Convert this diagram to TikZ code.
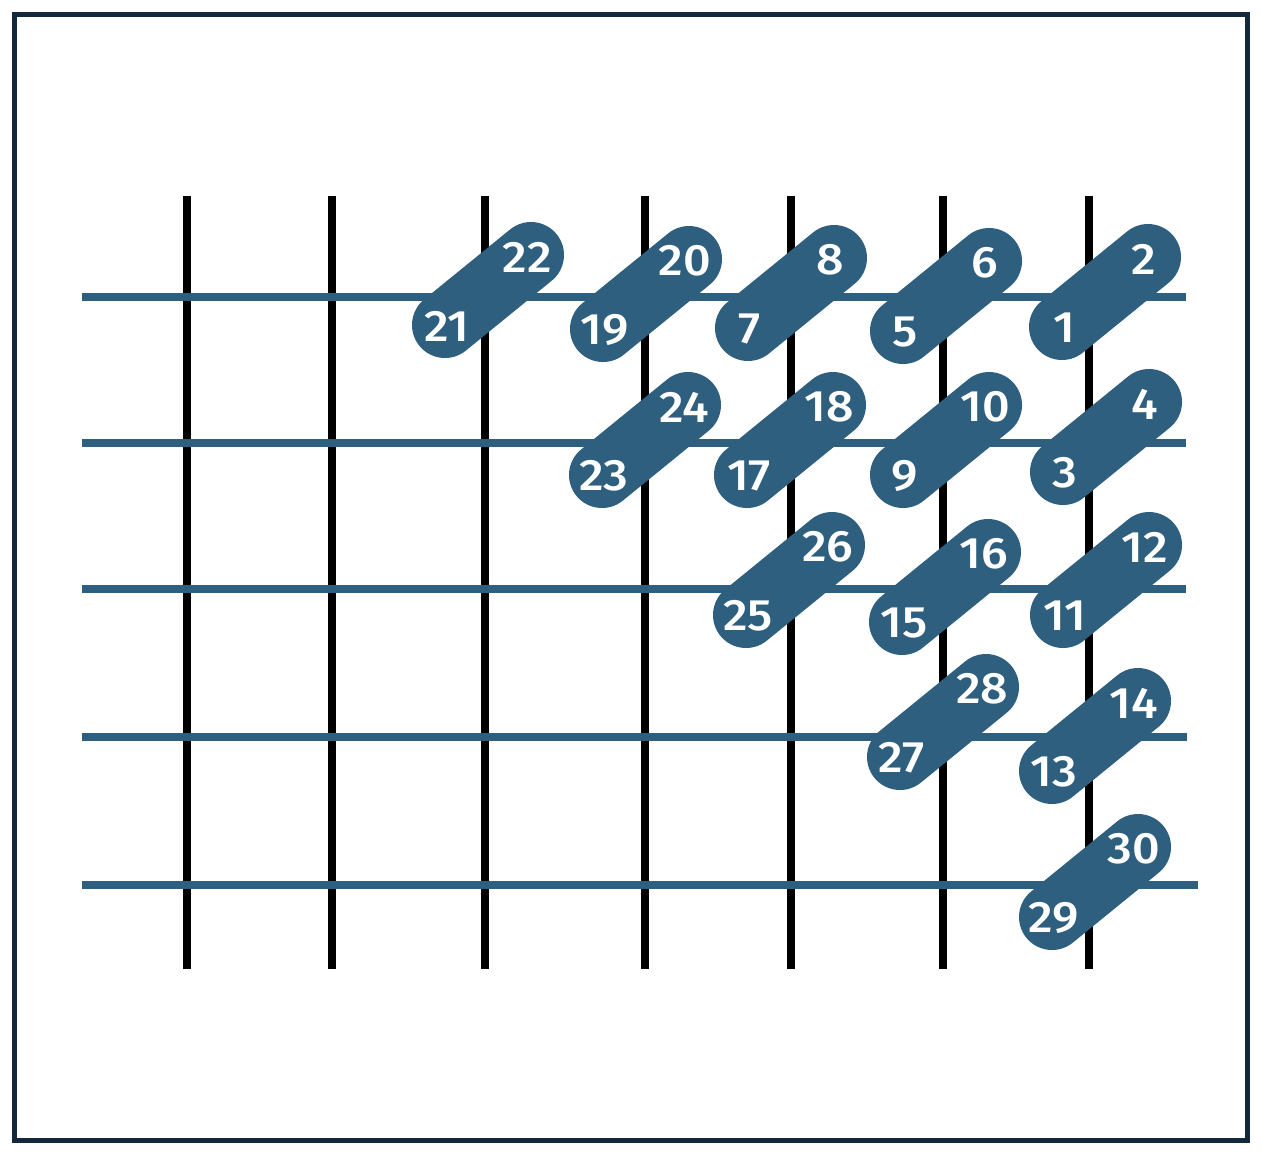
\documentclass[tikz,border=0pt]{standalone}
\usepackage{fontspec}
\setmainfont{Fira Sans}
\newfontfamily\numfont{Fira Sans Medium}[FakeStretch=1.1]
\definecolor{framenavy}{HTML}{13283A}
\definecolor{pillblue}{HTML}{2F5F7E}

\tikzset{
  frame/.style={draw=framenavy,line width=2.5pt},
  pole/.style={draw=black,line width=4pt},
  rail/.style={draw=pillblue,line width=4pt},
  pill/.style={draw=pillblue,line width=33pt,line cap=round},
  num/.style={text=white,inner sep=0pt,font=\numfont\fontsize{22}{24}\selectfont}
}

\begin{document}
\begin{tikzpicture}[x=0.5pt,y=-0.5pt]
  \useasboundingbox (0,0) rectangle (1262,1158);
  \draw[frame] (14.5,14.5) rectangle (1247,1140.5);

  % vertical lines
  \foreach \x in {187,332,485,645,791,943,1089}
    \draw[pole] (\x,196) -- (\x,969);

  % horizontal lines
  \foreach \y/\e in {297/1186,443/1186,589/1186,737/1187,885/1198}
    \draw[rail] (82,\y) -- (\e,\y);

  % pills
  \foreach \lo/\hi/\x/\y in {21/22/445/325, 19/20/603/329, 7/8/748/328,
      5/6/903/331, 1/2/1062/327, 23/24/602/475, 17/18/747/475,
      9/10/903/475, 3/4/1063/472, 25/26/746/615, 15/16/902/622,
      11/12/1063/615, 27/28/900/757, 13/14/1052/771, 29/30/1052/917}
  {
    \coordinate (c\lo) at (\x,\y);
    \coordinate (c\hi) at (\x+86,\y-70);
    \draw[pill] (c\lo) -- (c\hi);
    \node[num] (n\lo) at ([shift={(2,1)}]c\lo) {\lo};
    \node[num] (n\hi) at ([shift={(-4,2)}]c\hi) {\hi};
  }
\end{tikzpicture}
\end{document}
